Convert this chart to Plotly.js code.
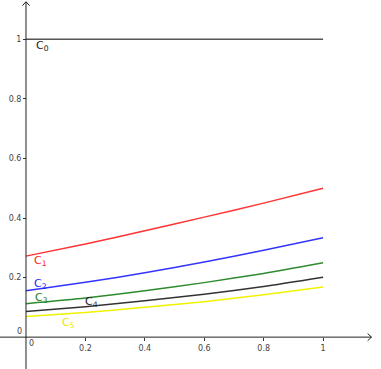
<!DOCTYPE html>
<html>
<head>
<meta charset="utf-8">
<script src="https://cdn.plot.ly/plotly-3.0.1.min.js"></script>
<style>html,body{margin:0;padding:0;background:#fff;}#chart{width:381px;height:369px;}</style>
</head>
<body>
<div id="chart"></div>
<script>
// Data
const xs = [0, 0.2, 0.4, 0.6, 0.8, 1];
const c0 = [1, 1, 1, 1, 1, 1];
const c1 = [0.272, 0.313, 0.357, 0.403, 0.450, 0.500];
const c2 = [0.156, 0.184, 0.216, 0.252, 0.292, 0.334];
const c3 = [0.112, 0.131, 0.156, 0.183, 0.214, 0.250];
const c4 = [0.086, 0.102, 0.122, 0.144, 0.170, 0.201];
const c5 = [0.069, 0.083, 0.100, 0.119, 0.142, 0.168];
const names = ["C<sub>0</sub>", "C<sub>1</sub>", "C<sub>2</sub>", "C<sub>3</sub>", "C<sub>4</sub>", "C<sub>5</sub>"];
const tickVals = [0.2, 0.4, 0.6, 0.8, 1];
const tickText = ["0.2", "0.4", "0.6", "0.8", "1"];

const series = [c0, c1, c2, c3, c4, c5];
const colors = ["#555555", "#ff3333", "#3333ff", "#2e8b2e", "#333333", "#f2f200"];
const traces = series.map((ys, i) => ({
  x: xs, y: ys, type: "scatter", mode: "lines",
  line: {color: colors[i], width: 1.5, shape: "spline", smoothing: 0.6},
  hoverinfo: "skip", showlegend: false
}));

const xr = [-0.0875, 1.195];
const yr = [-0.107, 1.132];
const labelFont = {family: "DejaVu Sans, sans-serif", size: 8, color: "#444"};

const labelPos = [[0.055, 0.978], [0.050, 0.256], [0.050, 0.178], [0.053, 0.131], [0.219, 0.118], [0.142, 0.048]];
const labelColors = ["#222", "#ff2222", "#2222ff", "#1e7b1e", "#222", "#e8e800"];
const annotations = labelPos.map((p, i) => ({
  x: p[0], y: p[1], xref: "x", yref: "y", text: names[i], showarrow: false,
  font: {family: "DejaVu Sans, sans-serif", size: 11, color: labelColors[i]}
}));
annotations.push({x: 0.018, y: -0.022, xref: "x", yref: "y", text: "0", showarrow: false, font: labelFont});
annotations.push({x: -0.022, y: 0.018, xref: "x", yref: "y", text: "0", showarrow: false, font: labelFont});

const layout = {
  width: 381, height: 369,
  margin: {l: 0, r: 0, t: 0, b: 0},
  paper_bgcolor: "#fff", plot_bgcolor: "#fff",
  showlegend: false,
  xaxis: {
    range: xr, anchor: "free", position: (0 - yr[0]) / (yr[1] - yr[0]),
    showgrid: false, zeroline: false, showline: false,
    tickmode: "array", tickvals: tickVals, ticktext: tickText,
    ticks: "outside", ticklen: 3, tickcolor: "#333", tickfont: labelFont
  },
  yaxis: {
    range: yr, anchor: "free", position: (0 - xr[0]) / (xr[1] - xr[0]),
    showgrid: false, zeroline: false, showline: false,
    tickmode: "array", tickvals: tickVals, ticktext: tickText,
    ticks: "outside", ticklen: 3, tickcolor: "#333", tickfont: labelFont
  },
  shapes: [
    {type: "line", xref: "x", yref: "y", x0: xr[0], x1: 1.163, y0: 0, y1: 0, line: {color: "#222", width: 1}},
    {type: "line", xref: "x", yref: "y", x0: 0, x1: 0, y0: yr[0], y1: 1.126, line: {color: "#222", width: 1}},
    {type: "path", xref: "x", yref: "y", path: "M 1.150 0.012 L 1.163 0 L 1.150 -0.012", line: {color: "#222", width: 1}},
    {type: "path", xref: "x", yref: "y", path: "M -0.012 1.113 L 0 1.126 L 0.012 1.113", line: {color: "#222", width: 1}}
  ],
  annotations: annotations
};

Plotly.newPlot("chart", traces, layout, {displayModeBar: false, staticPlot: true});
</script>
</body>
</html>
